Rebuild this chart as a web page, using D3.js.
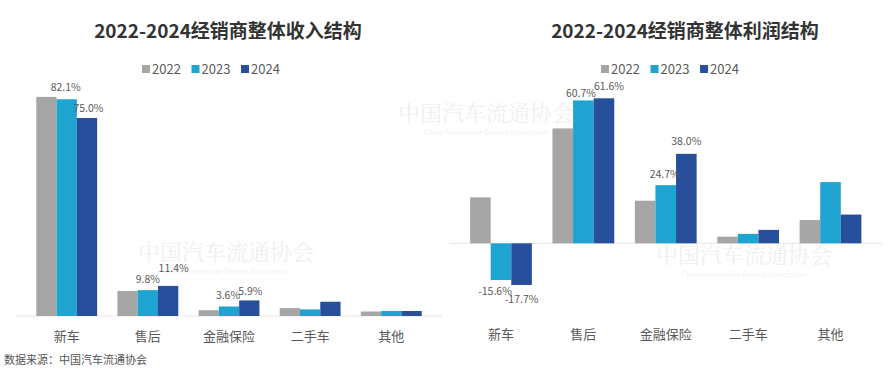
<!DOCTYPE html>
<html>
<head>
<meta charset="utf-8">
<script src="https://cdn.jsdelivr.net/npm/d3@7"></script>
<style>
  body { margin: 0; background: #fff; }
  svg { display: block; font-family: "Noto Sans CJK SC", "Open Sans", sans-serif; }
</style>
</head>
<body>
<script>
// data (percent)
const categories = ["新车", "售后", "金融保险", "二手车", "其他"];
const years = ["2022", "2023", "2024"];
const colors = ["#a6a6a6", "#1fa3d1", "#274f9c"];

const revenue2022 = [83.0, 9.5, 2.2, 3.0, 1.7];
const revenue2023 = [82.1, 9.8, 3.6, 2.5, 1.9];
const revenue2024 = [75.0, 11.4, 5.9, 5.4, 1.9];

const profit2022 = [19.5, 48.8, 18.1, 2.8, 9.9];
const profit2023 = [-15.6, 60.7, 24.7, 4.0, 26.0];
const profit2024 = [-17.7, 61.6, 38.0, 5.7, 12.2];

// which bars carry a value label: [year index, category index]
const revenueLabels = [[1, 0], [2, 0], [1, 1], [2, 1], [1, 2], [2, 2]];
const profitLabels = [[1, 0], [2, 0], [1, 1], [2, 1], [1, 2], [2, 2]];
// nudges of those labels (dx, dy from the bar end), same order
const revenueNudge = [[-1, -8], [1.5, -6], [0, -7], [5.5, -14], [-1, -7], [1, -5]];
const profitNudge = [[-6, 14.5], [0, 18.5], [-2.4, -3], [5, -8], [-1, -7.5], [0, -8.5]];

const W = 894, H = 378;
const svg = d3.select("body").append("svg")
    .attr("width", W)
    .attr("height", H);

// faint watermarks
const marks = [[226, 252], [744, 255], [486, 113]];
marks.forEach(m => {
    svg.append("text")
        .attr("x", m[0]).attr("y", m[1] + 8)
        .attr("text-anchor", "middle")
        .attr("font-family", "Noto Serif CJK SC, serif")
        .attr("font-size", 22)
        .attr("fill", "#efefef")
        .text("中国汽车流通协会");
    svg.append("text")
        .attr("x", m[0]).attr("y", m[1] + 22)
        .attr("text-anchor", "middle")
        .attr("font-size", 7)
        .attr("fill", "#f2f2f2")
        .text("China Automobile Dealers Association");
});

function drawChart(opts) {
    const series = opts.series;
    const x0 = d3.scaleBand()
        .domain(categories)
        .range(opts.xRange)
        .paddingInner(0.25)
        .paddingOuter(0.25);
    const x1 = d3.scaleBand()
        .domain(years)
        .range([0, x0.bandwidth()]);
    const y = d3.scaleLinear()
        .domain(opts.yDomain)
        .range(opts.yRange);

    const g = svg.append("g");

    // title
    g.append("text")
        .attr("x", opts.titleX).attr("y", 38)
        .attr("text-anchor", "middle")
        .attr("font-size", 19)
        .attr("font-weight", "bold")
        .attr("fill", "#333")
        .text(opts.title);

    // legend
    const lg = g.append("g").attr("transform", `translate(${opts.legendX},69)`);
    years.forEach((yr, i) => {
        const it = lg.append("g").attr("transform", `translate(${i * 49.5},0)`);
        it.append("rect")
            .attr("x", 0).attr("y", -4)
            .attr("width", 8).attr("height", 8)
            .attr("fill", colors[i]);
        it.append("text")
            .attr("x", 10).attr("y", 5)
            .attr("font-size", 13)
            .attr("fill", "#595959")
            .text(yr);
    });

    // zero line
    g.append("line")
        .attr("x1", opts.xRange[0]).attr("x2", opts.xRange[1])
        .attr("y1", y(0)).attr("y2", y(0))
        .attr("stroke", "#e6e6e6");

    // bars
    categories.forEach((c, ci) => {
        years.forEach((yr, yi) => {
            const v = series[yi][ci];
            g.append("rect")
                .attr("x", x0(c) + x1(yr))
                .attr("y", y(Math.max(0, v)))
                .attr("width", x1.bandwidth())
                .attr("height", Math.abs(y(v) - y(0)))
                .attr("fill", colors[yi]);
        });
    });

    // value labels
    opts.labels.forEach(([yi, ci], k) => {
        const v = series[yi][ci];
        const [dx, dy] = opts.nudge[k];
        const cx = x0(categories[ci]) + x1(years[yi]) + x1.bandwidth() / 2;
        g.append("text")
            .attr("x", cx + dx)
            .attr("y", y(v) + dy)
            .attr("text-anchor", "middle")
            .attr("font-size", 10.5)
            .attr("fill", "#595959")
            .text(v.toFixed(1) + "%");
    });

    // category axis labels
    g.append("g")
        .attr("transform", `translate(0,${opts.labelY})`)
        .call(d3.axisBottom(x0).tickSize(0).tickPadding(0))
        .call(a => a.select(".domain").remove())
        .call(a => a.selectAll("text")
            .attr("font-size", 13)
            .attr("font-family", "Noto Sans CJK SC, sans-serif")
            .attr("fill", "#595959"));
}

drawChart({
    title: "2022-2024经销商整体收入结构",
    titleX: 228,
    legendX: 142,
    series: [revenue2022, revenue2023, revenue2024],
    labels: revenueLabels,
    nudge: revenueNudge,
    xRange: [16, 442],
    yDomain: [0, 75],
    yRange: [316, 118],
    labelY: 332
});

drawChart({
    title: "2022-2024经销商整体利润结构",
    titleX: 685,
    legendX: 601,
    series: [profit2022, profit2023, profit2024],
    labels: profitLabels,
    nudge: profitNudge,
    xRange: [449.5, 882],
    yDomain: [0, 61.6],
    yRange: [243.3, 98.3],
    labelY: 330
});

// source note
svg.append("text")
    .attr("x", 4).attr("y", 364)
    .attr("font-size", 11)
    .attr("fill", "#555")
    .text("数据来源：中国汽车流通协会");
</script>
</body>
</html>
